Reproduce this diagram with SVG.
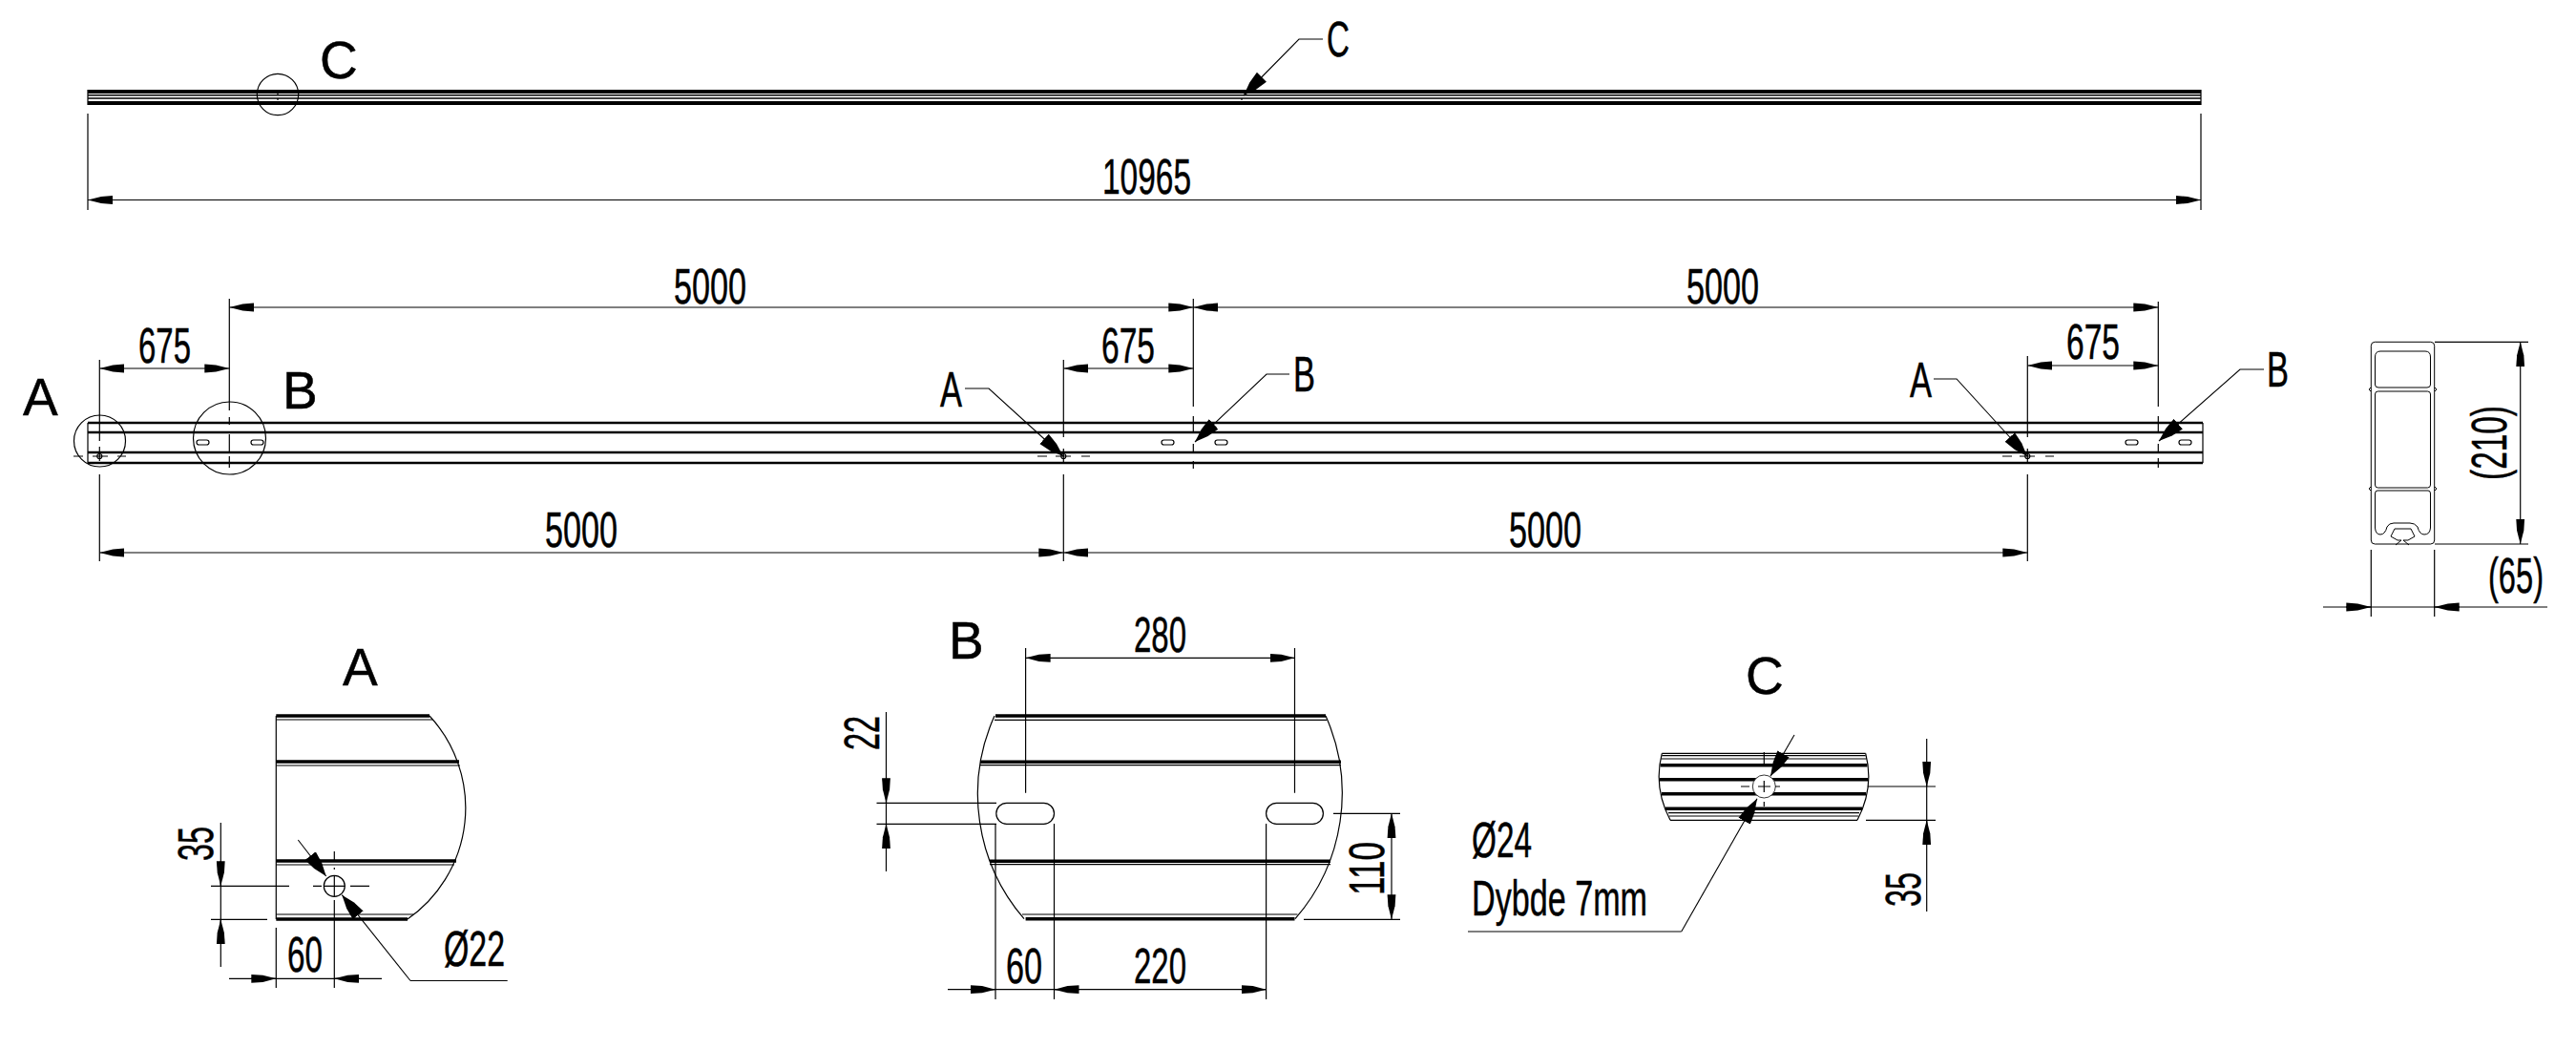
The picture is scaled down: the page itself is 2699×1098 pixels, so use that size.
<svg xmlns="http://www.w3.org/2000/svg" width="2699" height="1098" viewBox="0 0 2699 1098">
<defs>
<marker id="dim" markerUnits="userSpaceOnUse" markerWidth="27" markerHeight="10" viewBox="0 0 27 10" refX="26" refY="5" orient="auto-start-reverse"><path d="M0 .6L12 1.4L26 5L12 8.6L0 9.4z" fill="#000"/></marker>
<marker id="lead" markerUnits="userSpaceOnUse" markerWidth="28" markerHeight="16" viewBox="0 0 28 16" refX="27" refY="8" orient="auto-start-reverse"><path d="M0 1L13 3L27 8L13 13L0 15z" fill="#000"/></marker>
</defs>
<style>
.l{fill:none;stroke:#000;stroke-width:1.2}
.p{fill:none;stroke:#000;stroke-width:1}
.t{fill:none;stroke:#000;stroke-width:2.4}
.k{fill:none;stroke:#000;stroke-width:3.4}
.f{fill:none;stroke:#000;stroke-width:3.6}
.d{fill:none;stroke:#000;stroke-width:1.2;marker-start:url(#dim);marker-end:url(#dim)}
.e{fill:none;stroke:#000;stroke-width:1.2;marker-end:url(#dim)}
.a{fill:none;stroke:#000;stroke-width:1.1;marker-end:url(#lead)}
text{font-family:"Liberation Sans",Arial,sans-serif;fill:#000;stroke:#000;stroke-width:.5}
.n{font-size:52px}
.h{font-size:55px}
</style>
<rect width="2699" height="1098" fill="#fff"/>

<g id="top-view">
<rect x="92" y="94" width="2214" height="4" fill="#000"/>
<rect x="92" y="106" width="2214" height="4" fill="#000"/>
<path class="p" style="stroke-width:1.4" d="M92 99.8H2306M92 103H2306"/>
<path class="l" d="M92 94V110M2306 94V110M291 98V100M291 103V105M1301 99V100M1301 103V105"/>
<circle id="circle-c" class="l" cx="291" cy="99" r="21.7"/>
<text class="h" x="335" y="82">C</text>
<path class="a" d="M1386 41H1361L1303 100"/>
<text class="n" x="1390" y="59" textLength="24" lengthAdjust="spacingAndGlyphs">C</text>
<g id="dim-10965">
<path class="l" d="M92 119V220M2306 119V220"/>
<path class="d" d="M92 209.5H2306"/>
<text class="n" x="1155" y="203" textLength="93" lengthAdjust="spacingAndGlyphs">10965</text>
</g>
</g>

<g id="side-view">
<path class="t" d="M92 443H2308M92 453H2308M92 474H2308M92 485H2308"/>
<path class="l" d="M92 443V485M2308 443V485"/>
<g>
<rect x="206" y="461" width="13" height="5" rx="2.5" class="l"/>
<rect x="263" y="461" width="13" height="5" rx="2.5" class="l"/>
<rect x="1217" y="461" width="13" height="5" rx="2.5" class="l"/>
<rect x="1273" y="461" width="13" height="5" rx="2.5" class="l"/>
<rect x="2227" y="461" width="13" height="5" rx="2.5" class="l"/>
<rect x="2283" y="461" width="13" height="5" rx="2.5" class="l"/>
<circle cx="104.3" cy="478" r="2.5" class="l"/>
<circle cx="1114.3" cy="478" r="2.5" class="l"/>
<circle cx="2124.3" cy="478" r="2.5" class="l"/>
</g>
<path class="l" d="M77 478H87M97 478H113M123 478H132M1087 478H1097M1106 478H1122M1133 478H1142M2098 478H2108M2116 478H2132M2143 478H2152"/>
<path class="l" d="M104.3 377V462M104.3 468V483M104.3 497V588M240.3 313V430M240.3 437V445M240.3 455V473M240.3 478V490M1114.3 377V458M1114.3 470V485M1114.3 497V588M1250.3 313V426M1250.3 436V453M1250.3 465V473M1250.3 483V491M2124.3 373V458M2124.3 470V485M2124.3 497V588M2261.3 316V426M2261.3 436V453M2261.3 465V473M2261.3 480V490"/>
<circle id="circle-a" class="l" cx="104.5" cy="462" r="27"/>
<circle id="circle-b" class="l" cx="240.5" cy="459" r="38"/>
<text class="h" x="24" y="435">A</text>
<text class="h" x="296" y="428">B</text>
<path class="a" d="M1011 407H1036L1114 478"/>
<path class="a" d="M1351 392H1327L1252 463"/>
<path class="a" d="M2026 397H2050L2124 478"/>
<path class="a" d="M2372 387H2347L2262 462"/>
<text class="n" x="985" y="426" textLength="23" lengthAdjust="spacingAndGlyphs">A</text>
<text class="n" x="1355" y="410" textLength="23" lengthAdjust="spacingAndGlyphs">B</text>
<text class="n" x="2001" y="416" textLength="23" lengthAdjust="spacingAndGlyphs">A</text>
<text class="n" x="2375" y="405" textLength="23" lengthAdjust="spacingAndGlyphs">B</text>
<g id="dims-side">
<path class="d" d="M240.3 322H1250.3"/>
<path class="d" d="M1250.3 322H2261.3"/>
<path class="d" d="M104.3 579H1114.3"/>
<path class="d" d="M1114.3 579H2124.3"/>
<path class="d" d="M104.3 386H240.3"/>
<path class="d" d="M1114.3 386H1250.3"/>
<path class="d" d="M2124.3 383H2261.3"/>
<text class="n" x="145" y="380" textLength="55" lengthAdjust="spacingAndGlyphs">675</text>
<text class="n" x="1154" y="380" textLength="56" lengthAdjust="spacingAndGlyphs">675</text>
<text class="n" x="2165" y="376" textLength="56" lengthAdjust="spacingAndGlyphs">675</text>
<text class="n" x="706" y="318" textLength="76" lengthAdjust="spacingAndGlyphs">5000</text>
<text class="n" x="1767" y="318" textLength="76" lengthAdjust="spacingAndGlyphs">5000</text>
<text class="n" x="571" y="573" textLength="76" lengthAdjust="spacingAndGlyphs">5000</text>
<text class="n" x="1581" y="573" textLength="76" lengthAdjust="spacingAndGlyphs">5000</text>
</g>
</g>

<g id="profile">
<rect class="p" x="2484.3" y="358.3" width="66.4" height="211.7" rx="4"/>
<path class="p" d="M2488.5 374Q2488.5 368 2494 368H2541Q2546.5 368 2546.5 374V403Q2546.5 406 2543 406H2492Q2488.5 406 2488.5 403Z"/>
<path class="p" d="M2488.5 413Q2488.5 410 2491.5 410H2543.5Q2546.5 410 2546.5 413V508Q2546.5 511 2543.5 511H2491.5Q2488.5 511 2488.5 508Z"/>
<path class="p" d="M2491 514H2544Q2546.5 514 2546.5 517V553Q2546 560 2540 560Q2535 560 2533 552Q2530 548 2525 548H2508Q2503 548 2501 552Q2499 560 2494 560Q2489 560 2488.5 553V517Q2488.5 514 2491 514Z"/>
<path class="p" d="M2509 554H2526L2530 562L2523 566H2518L2524 571M2509 554L2505 562L2512 566H2516L2510 571M2484 406L2482 408L2484 410M2551 406L2553 408L2551 410M2484 510L2482 512L2484 514M2551 510L2553 512L2551 514"/>
<path class="l" d="M2551 358.3H2649M2551 570H2649M2484.3 576V646M2550.7 576V646"/>
<path class="d" d="M2640.7 358.3V570"/>
<path class="l" d="M2434 636H2669"/>
<path class="e" d="M2458 636H2484.3"/>
<path class="e" d="M2577 636H2550.7"/>
<text class="n" transform="translate(2626 503) rotate(-90)" textLength="78" lengthAdjust="spacingAndGlyphs">(210)</text>
<text class="n" x="2607" y="621" textLength="58" lengthAdjust="spacingAndGlyphs">(65)</text>
</g>

<g id="detail-a">
<text class="h" x="359" y="718">A</text>
<path class="l" d="M289.3 750V963M450 750A142 142 0 0 1 427 963"/>
<path class="k" d="M289.3 750H450M289.3 798H481M289.3 902H478M289.3 963H427"/>
<path class="l" d="M289.3 754H453M289.3 802H482M289.3 906H476M289.3 958H433"/>
<circle class="l" cx="350.3" cy="928.3" r="11"/>
<path class="l" d="M221 928.3H303M328 928.3H337M339 928.3H361.6M367 928.3H387M350.3 892V902M350.3 909V911M350.3 917V939.5M350.3 943V1035M221 963.3H280M289.3 972V1035"/>
<path class="l" d="M231.3 862V1013M240 1025.3H400"/>
<path class="e" d="M231.3 902V928.3"/>
<path class="e" d="M231.3 989V963.3"/>
<path class="e" d="M263 1025.3H289.3"/>
<path class="e" d="M376.5 1025.3H350.3"/>
<path class="a" d="M312.3 880L341.7 918"/>
<path class="a" d="M430 1027.5L358.3 937.7"/>
<path class="l" d="M430 1027.5H531.7"/>
<text class="n" transform="translate(223 902) rotate(-90)" textLength="36" lengthAdjust="spacingAndGlyphs">35</text>
<text class="n" x="301" y="1018" textLength="37" lengthAdjust="spacingAndGlyphs">60</text>
<text class="n" x="465" y="1012" textLength="64" lengthAdjust="spacingAndGlyphs">Ø22</text>
</g>

<g id="detail-b">
<text class="h" x="994" y="690">B</text>
<path class="l" d="M1042 750A200 200 0 0 0 1073 962.7M1389 750A200 200 0 0 1 1357 962.7"/>
<path class="k" d="M1043 750H1389M1027 798.3H1405M1037 902.3H1394M1074.6 962.7H1356.5"/>
<path class="l" d="M1042 754.3H1390M1027 801.7H1405M1037 905.7H1394M1071 958H1359.5"/>
<rect class="l" x="1043.8" y="841.3" width="60.7" height="22" rx="11"/>
<rect class="l" x="1326.6" y="841.3" width="59.8" height="22" rx="11"/>
<path class="l" d="M1074.6 679V830.7M1356.5 679V830.7M918.5 841.3H1044M918.5 863.3H1044M1043 863V1047M1104.5 863V1047M1326.6 863V1047M1397 852.3H1467M1366 963.3H1467M928.5 746V913M993 1036.7H1326.6"/>
<path class="d" d="M1074.6 689.3H1356.5"/>
<path class="e" d="M928.5 815V841.3"/>
<path class="e" d="M928.5 889V863.3"/>
<path class="d" d="M1458 852.3V963.3"/>
<path class="e" d="M1017 1036.7H1043"/>
<path class="e" d="M1130.5 1036.7H1104.5"/>
<path class="e" d="M1300.6 1036.7H1326.6"/>
<text class="n" x="1188" y="683" textLength="55" lengthAdjust="spacingAndGlyphs">280</text>
<text class="n" transform="translate(921 786) rotate(-90)" textLength="36" lengthAdjust="spacingAndGlyphs">22</text>
<text class="n" transform="translate(1450 938) rotate(-90)" textLength="56" lengthAdjust="spacingAndGlyphs">110</text>
<text class="n" x="1054" y="1030" textLength="38" lengthAdjust="spacingAndGlyphs">60</text>
<text class="n" x="1188" y="1030" textLength="55" lengthAdjust="spacingAndGlyphs">220</text>
</g>

<g id="detail-c">
<text class="h" x="1829" y="727">C</text>
<path class="l" d="M1741.3 789.3Q1732 825 1750 859.3M1954.7 789.3Q1964 825 1946 859.3"/>
<path class="l" d="M1741.3 789.3H1954.7M1741.3 791.7H1954.7M1740.5 795H1955.5M1748 851.7H1948M1749 855H1947M1750 859.3H1946"/>
<path class="f" d="M1739.5 801.7H1956.5M1739 816.7H1957M1741 831.7H1955M1745 847.3H1951"/>
<circle cx="1848.3" cy="824" r="12" fill="#fff" stroke="#000" stroke-width=".8"/>
<path class="l" d="M1824 824H1833M1842 824H1855M1860 824H1865M1848.3 788V800M1848.3 818V830M1848.3 840V845M1956.7 824H2028M1955 859.3H2028M2018.7 774V955"/>
<path class="a" d="M1880 770L1855 813.3"/>
<path class="a" d="M1761.7 976L1841 836.7"/>
<path class="l" d="M1538 976H1761.7"/>
<path class="e" d="M2018.7 798V824"/>
<path class="e" d="M2018.7 885.3V859.3"/>
<text class="n" transform="translate(2012 950) rotate(-90)" textLength="36" lengthAdjust="spacingAndGlyphs">35</text>
<text class="n" x="1542" y="898" textLength="63" lengthAdjust="spacingAndGlyphs">Ø24</text>
<text class="n" x="1542" y="959" textLength="184" lengthAdjust="spacingAndGlyphs">Dybde 7mm</text>
</g>
</svg>
